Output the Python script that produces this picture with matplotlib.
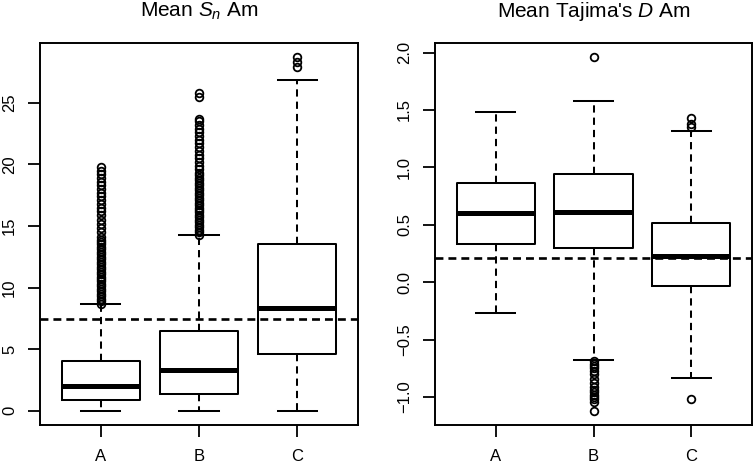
import matplotlib
matplotlib.use("Agg")
import matplotlib.pyplot as plt

plt.rcParams['font.family'] = ['Liberation Sans', 'DejaVu Sans']
plt.rcParams['mathtext.fontset'] = 'custom'
plt.rcParams['mathtext.rm'] = 'Liberation Sans'
plt.rcParams['mathtext.it'] = 'Liberation Sans:italic'

# ---------------- data ----------------
categories = ['A', 'B', 'C']

sn_whislo = [0.0, 0.0, 0.0]
sn_q1 = [0.9, 1.35, 4.6]
sn_med = [2.0, 3.3, 8.35]
sn_q3 = [4.05, 6.5, 13.55]
sn_whishi = [8.7, 14.3, 26.85]
sn_fliers_A = [8.7, 8.9, 9.1, 9.3, 9.5, 9.7, 9.9, 10.1, 10.3, 10.5, 10.7, 10.9,
               11.1, 11.3, 11.5, 11.7, 11.9, 12.1, 12.3, 12.5, 12.7, 12.9, 13.1,
               13.3, 13.5, 13.7, 13.9, 14.1, 14.5, 14.8, 15.2, 15.5, 15.9, 16.2,
               16.5, 16.8, 17.1, 17.4, 17.7, 18.0, 18.3, 18.6, 18.9, 19.2, 19.5, 19.8]
sn_fliers_B = [14.3, 14.5, 14.7, 14.9, 15.1, 15.3, 15.5, 15.7, 15.9, 16.1, 16.3,
               16.5, 16.7, 16.9, 17.1, 17.3, 17.5, 17.7, 17.9, 18.1, 18.3, 18.5,
               18.7, 18.9, 19.1, 19.3, 19.6, 19.9, 20.2, 20.5, 20.8, 21.1, 21.4,
               21.7, 22.0, 22.3, 22.6, 22.9, 23.2, 23.5, 23.7, 25.5, 25.8]
sn_fliers_C = [27.9, 28.3, 28.7]
sn_ref = 7.45

td_whislo = [-0.27, -0.68, -0.835]
td_q1 = [0.335, 0.295, -0.03]
td_med = [0.605, 0.61, 0.23]
td_q3 = [0.865, 0.945, 0.52]
td_whishi = [1.48, 1.575, 1.315]
td_fliers_A = []
td_fliers_B = [1.96, -0.69, -0.71, -0.73, -0.75, -0.77, -0.80, -0.84, -0.88,
               -0.91, -0.94, -0.96, -0.98, -1.00, -1.02, -1.04, -1.12]
td_fliers_C = [1.35, 1.38, 1.43, -1.02]
td_ref = 0.21

sn_title = 'Mean $S_n$ Am'
td_title = "Mean Tajima's $D$ Am"
sn_ticks = [0, 5, 10, 15, 20, 25]
td_ticks = [-1.0, -0.5, 0.0, 0.5, 1.0, 1.5, 2.0]


def make_stats(lo, q1, med, q3, hi, fliers):
    return [dict(label=c, whislo=a, q1=b, med=m, q3=d, whishi=e, fliers=f)
            for c, a, b, m, d, e, f in zip(categories, lo, q1, med, q3, hi, fliers)]


fig = plt.figure(figsize=(7.56, 4.66), dpi=100)
ax1 = fig.add_axes([40/756, 41/466, 318/756, 382/466])
ax2 = fig.add_axes([435/756, 41/466, 317/756, 382/466])

panels = [
    (ax1, make_stats(sn_whislo, sn_q1, sn_med, sn_q3, sn_whishi,
                     [sn_fliers_A, sn_fliers_B, sn_fliers_C]), sn_ref, sn_title, sn_ticks, '{:g}'),
    (ax2, make_stats(td_whislo, td_q1, td_med, td_q3, td_whishi,
                     [td_fliers_A, td_fliers_B, td_fliers_C]), td_ref, td_title, td_ticks, '{:.1f}'),
]

lw = 1.45
for ax, stats, ref, title, ticks, fmt in panels:
    ax.bxp(stats, positions=[1, 2, 3], widths=0.8, capwidths=0.4,
           boxprops=dict(color='black', linewidth=lw),
           medianprops=dict(color='black', linewidth=3.6, solid_capstyle='butt'),
           whiskerprops=dict(color='black', linewidth=lw, linestyle=(0, (3.6, 2.5))),
           capprops=dict(color='black', linewidth=lw),
           flierprops=dict(marker='o', markerfacecolor='none', markeredgecolor='black',
                           markersize=5.5, markeredgewidth=1.3))
    allv = []
    for s in stats:
        allv += [s['whislo'], s['whishi']] + list(s['fliers'])
    lo, hi = min(allv), max(allv)
    pad = 0.04 * (hi - lo)
    ax.set_ylim(lo - pad, hi + pad)
    ax.set_xlim(0.38, 3.62)
    ax.axhline(ref, color='black', linewidth=1.9, linestyle=(0, (3.0, 1.9)))
    ax.set_title(title, fontsize=15, pad=19)
    ax.set_yticks(ticks)
    ax.set_yticklabels([fmt.format(t).replace('-', '\u2212') for t in ticks],
                       rotation=90, va='center')
    ax.set_xticks([1, 2, 3])
    ax.set_xticklabels(categories)
    ax.tick_params(axis='both', direction='out', length=8.5, width=1.3,
                   labelsize=12)
    ax.tick_params(axis='x', pad=9)
    ax.tick_params(axis='y', pad=8)
    for sp in ax.spines.values():
        sp.set_linewidth(1.4)

fig.savefig('out.png', dpi=100)
